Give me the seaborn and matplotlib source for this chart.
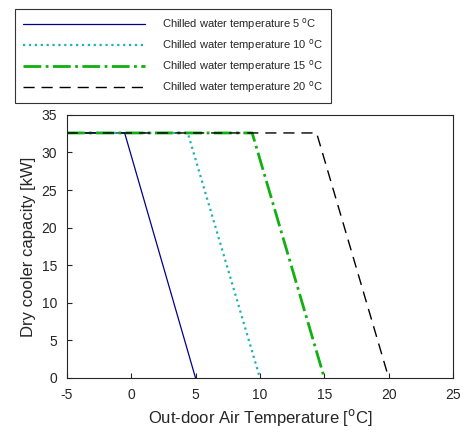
import matplotlib
matplotlib.use("Agg")
import matplotlib.pyplot as plt
import seaborn as sns
import pandas as pd

sns.set_style("ticks")
plt.rcParams['font.family'] = ['Liberation Sans', 'DejaVu Sans']
plt.rcParams['axes.unicode_minus'] = False

temps = [5, 10, 15, 20]
labels = ["Chilled water temperature 5 $^{\\rm o}$C", "Chilled water temperature 10 $^{\\rm o}$C",
          "Chilled water temperature 15 $^{\\rm o}$C", "Chilled water temperature 20 $^{\\rm o}$C"]
x_pts = [[-5, -0.5, 5], [-5, 4.4, 10], [-5, 9.4, 15], [-5, 14.4, 20]]
y_pts = [[32.6, 32.6, 0], [32.6, 32.6, 0], [32.6, 32.6, 0], [32.6, 32.6, 0]]
colors = ["#00008b", "#20b2b2", "#10b010", "black"]
styles = ["-", ":", "-.", (0, (8, 5))]
widths = [0.9, 1.6, 2.0, 1.0]

fig = plt.figure(figsize=(4.73, 4.42), dpi=100)
ax = fig.add_axes([0.141, 0.145, 0.817, 0.595])
for i, t in enumerate(temps):
    df = pd.DataFrame({"x": x_pts[i], "y": y_pts[i]})
    sns.lineplot(data=df, x="x", y="y", ax=ax, color=colors[i], linestyle=styles[i],
                 linewidth=widths[i], label=labels[i], legend=False)

ax.set_xlim(-5, 25)
ax.set_ylim(0, 35)
ax.set_xticks(range(-5, 26, 5))
ax.set_yticks(range(0, 36, 5))
ax.tick_params(direction="in", labelsize=10, pad=7)
ax.set_xlabel("Out-door Air Temperature [$^{\\rm o}$C]", fontsize=12)
ax.set_ylabel("Dry cooler capacity [kW]", fontsize=12)

h, l = ax.get_legend_handles_labels()
leg = fig.legend(h, l, loc="upper left", bbox_to_anchor=(0.021, 0.993), fontsize=8,
                 frameon=True, fancybox=False, edgecolor="black", handlelength=11,
                 handletextpad=1.5, borderpad=0.7, labelspacing=0.45)
leg.get_frame().set_linewidth(0.8)

fig.savefig("out.png", dpi=100)
